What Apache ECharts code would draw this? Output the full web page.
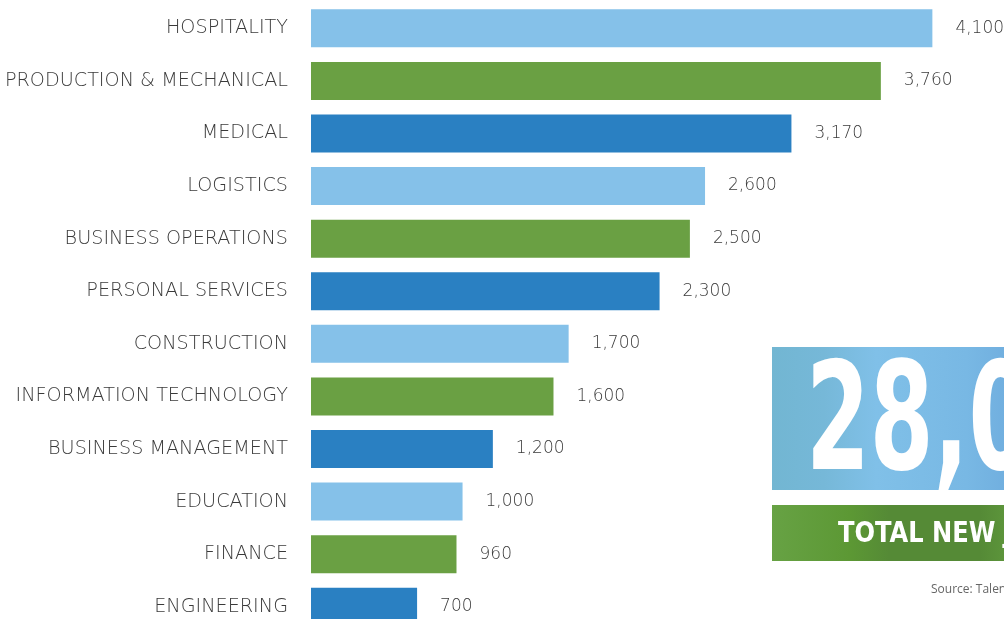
<!DOCTYPE html>
<html><head><meta charset="utf-8">
<script src="https://cdn.jsdelivr.net/npm/echarts@6/dist/echarts.min.js"></script>
<style>html,body{margin:0;padding:0;background:#fff;overflow:hidden;width:1004px;height:619px}#c{width:1004px;height:640px}</style>
</head><body><div id="c"></div>
<script>
const categories = ["HOSPITALITY","PRODUCTION & MECHANICAL","MEDICAL","LOGISTICS","BUSINESS OPERATIONS","PERSONAL SERVICES","CONSTRUCTION","INFORMATION TECHNOLOGY","BUSINESS MANAGEMENT","EDUCATION","FINANCE","ENGINEERING"];
const values = [4100,3760,3170,2600,2500,2300,1700,1600,1200,1000,960,700];
const palette = ["#85c1e9","#6aa043","#2a80c2"];
const totalText = "28,000";
const bannerText = "TOTAL NEW JOBS";
const sourceText = "Source: TalentNeuron";

const chart = echarts.init(document.getElementById('c'));
chart.setOption({
  animation:false,
  grid:{left:311, top:2, width:682, height:631},
  xAxis:{type:'value', min:0, max:4500, show:false},
  yAxis:{type:'category', data:categories, inverse:true,
    axisLine:{show:false}, axisTick:{show:false},
    axisLabel:{margin:23, color:'#3a3a3a', fontFamily:'DejaVu Sans', fontWeight:300, fontSize:19.2, padding:[4,0,0,0]}},
  series:[{type:'bar', barWidth:38,
    data: values.map((v,i)=>({value:v, itemStyle:{color:palette[i%3]}})),
    label:{show:true, position:'right', distance:23, color:'#3a3a3a', fontFamily:'DejaVu Sans', fontWeight:300, fontSize:17, padding:[4,0,0,0],
      formatter:p=>p.value.toLocaleString('en-US')}}],
  graphic:[
    {type:'rect', shape:{x:772,y:347,width:260,height:143},
      style:{fill:new echarts.graphic.LinearGradient(0,0,1,0,[{offset:0,color:'#72b6d2'},{offset:0.2,color:'#76b8d8'},{offset:0.4,color:'#80c0e8'},{offset:0.75,color:'#78b8e4'},{offset:1,color:'#6ca9dc'}])}},
    {type:'text', x:806, y:430, scaleX:0.68, scaleY:1,
      style:{x:0, y:0, text:totalText, fill:'#fff', verticalAlign:'middle', align:'left',
        font:'bold 150px "DejaVu Sans Condensed", "DejaVu Sans", sans-serif'}},
    {type:'rect', shape:{x:772,y:505,width:260,height:56},
      style:{fill:new echarts.graphic.LinearGradient(0,0,1,0,[{offset:0,color:'#67a244'},{offset:0.3,color:'#5c9834'},{offset:0.45,color:'#558a36'},{offset:0.8,color:'#558a36'},{offset:1,color:'#64a040'}])}},
    {type:'text', x:838, y:534.5, scaleX:0.96, scaleY:1,
      style:{x:0, y:0, text:bannerText, fill:'#fff', verticalAlign:'middle', align:'left',
        font:'bold 28px "DejaVu Sans Condensed", "DejaVu Sans", sans-serif'}},
    {type:'text', x:931, y:590,
      style:{x:0, y:0, text:sourceText, fill:'#666', verticalAlign:'middle', align:'left',
        font:'12px "Open Sans", sans-serif'}}
  ]
});
</script></body></html>
